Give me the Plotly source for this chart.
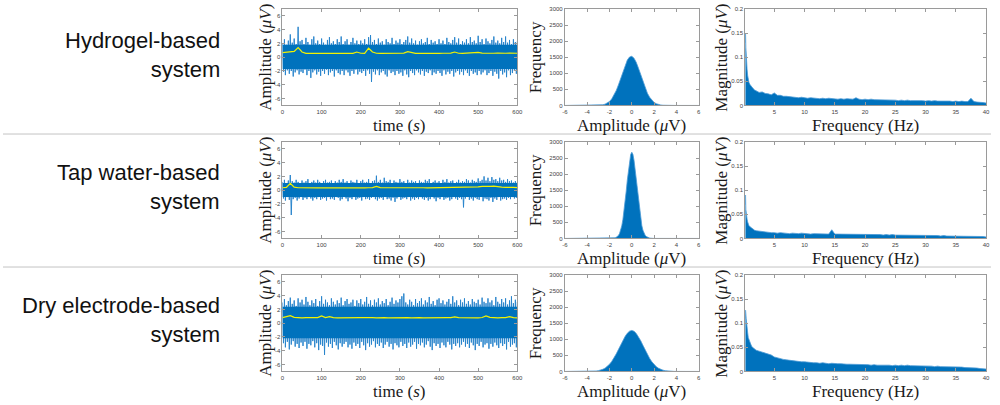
import numpy as np
import plotly.graph_objects as go

# ---------------- DATA ----------------
row_labels = ["Hydrogel-based<br>system", "Tap water-based<br>system", "Dry electrode-based<br>system"]

# time-series: upper peaks at t=0,5,...,600 ; lower peaks at t=2.5,7.5,...,597.5 (µV)
ts_upper_1 = [2.0, 2.6, 1.8, 2.4, 3.3, 2.1, 2.7, 1.9, 4.4, 2.3,
              2.5, 1.9, 2.8, 2.2, 1.8, 2.6, 3.0, 2.0, 2.4, 1.9,
              2.7, 2.1, 1.8, 2.5, 2.9, 2.0, 2.3, 1.9, 2.6, 2.2,
              3.0, 1.9, 2.3, 2.6, 1.8, 2.2, 2.8, 2.0, 2.4, 1.9,
              2.4, 2.0, 2.6, 1.9, 2.9, 3.2, 2.2, 2.5, 1.9, 2.7,
              2.1, 2.3, 1.8, 2.6, 2.2, 2.0, 2.8, 1.9, 2.4, 2.1,
              2.6, 1.9, 2.2, 2.5, 3.0, 2.1, 2.7, 2.0, 2.4, 1.8,
              2.3, 2.6, 2.0, 2.2, 2.8, 1.9, 2.5, 2.1, 2.3, 1.9,
              2.6, 2.0, 2.4, 1.9, 2.8, 2.2, 2.0, 2.5, 2.9, 2.1,
              2.7, 1.9, 2.3, 2.1, 2.6, 2.0, 2.9, 2.2, 2.4, 2.0,
              3.1, 2.2, 2.6, 1.9, 2.7, 2.3, 2.0, 2.5, 3.0, 2.1,
              2.4, 2.0, 2.8, 2.2, 3.0, 2.1, 2.5, 1.9, 2.6, 2.2, 2.3]
ts_lower_1 = [-2.1, -2.6, -1.9, -2.4, -2.0, -2.8, -2.2, -1.9, -2.5, -2.1,
              -2.3, -1.8, -2.6, -2.0, -3.0, -2.2, -1.9, -2.5, -2.1, -2.7,
              -2.0, -2.4, -1.8, -2.6, -2.2, -2.0, -2.8, -1.9, -2.3, -2.5,
              -2.0, -2.6, -1.9, -2.2, -2.7, -2.0, -2.4, -1.8, -2.5, -2.1,
              -2.3, -2.0, -2.7, -1.9, -2.4, -3.6, -2.1, -2.5, -1.9, -2.6,
              -2.2, -2.0, -2.5, -2.8, -1.9, -2.3, -2.1, -2.6, -2.0, -2.4,
              -2.2, -2.7, -1.9, -2.5, -2.9, -2.0, -2.3, -2.6, -1.9, -2.2,
              -2.5, -2.0, -2.7, -2.1, -2.3, -1.9, -2.6, -2.2, -2.4, -2.0,
              -2.3, -2.7, -1.9, -2.5, -2.1, -2.4, -2.0, -2.8, -2.2, -2.0,
              -2.5, -2.1, -2.6, -1.9, -2.3, -2.7, -2.0, -2.4, -2.2, -2.6,
              -2.0, -2.5, -2.2, -1.9, -2.6, -2.3, -2.0, -2.7, -2.1, -2.4,
              -3.1, -2.0, -2.5, -2.2, -2.9, -1.9, -2.6, -2.3, -2.0, -2.4]
# moving mean, t=0,10,...,600
ts_mean_1 = [0.65, 0.7, 0.75, 0.85, 1.4, 0.75, 0.55, 0.55, 0.6, 0.55,
             0.57, 0.55, 0.6, 0.55, 0.57, 0.55, 0.55, 0.6, 0.55, 0.75,
             0.57, 0.55, 1.3, 0.75, 0.57, 0.55, 0.57, 0.55, 0.6, 0.57,
             0.55, 0.6, 0.8, 0.65, 0.55, 0.57, 0.55, 0.55, 0.57, 0.55,
             0.55, 0.57, 0.55, 0.6, 0.75, 0.57, 0.55, 0.57, 0.6, 0.65,
             0.7, 0.6, 0.57, 0.55, 0.57, 0.6, 0.55, 0.57, 0.6, 0.55, 0.57]

ts_upper_2 = [1.2, 1.5, 1.0, 1.4, 2.2, 1.3, 1.1, 1.5, 1.2, 1.0,
              1.4, 1.1, 1.3, 1.6, 1.0, 1.2, 1.4, 1.1, 1.5, 1.2,
              1.0, 1.3, 1.5, 1.1, 1.2, 1.4, 1.0, 1.3, 1.1, 1.5,
              1.2, 1.6, 1.1, 1.3, 1.0, 1.4, 1.2, 1.1, 1.5, 1.0,
              1.3, 1.5, 1.1, 1.2, 1.6, 1.0, 1.3, 1.4, 2.1, 1.2,
              1.5, 1.1, 1.8, 1.3, 1.2, 1.5, 1.0, 1.4, 1.2, 1.1,
              1.6, 1.2, 1.3, 1.0, 1.5, 1.1, 1.4, 1.2, 1.3, 1.0,
              1.4, 1.2, 1.1, 1.5, 1.3, 1.6, 1.0, 1.2, 1.4, 1.1,
              1.3, 1.0, 1.5, 1.2, 1.6, 1.1, 1.3, 1.4, 1.0, 1.2,
              1.5, 1.1, 1.3, 1.2, 1.6, 1.4, 1.1, 1.5, 1.3, 1.2,
              1.7, 1.3, 1.5, 2.0, 1.4, 1.8, 1.3, 1.9, 1.5, 1.6,
              1.3, 1.8, 1.4, 1.5, 1.2, 1.6, 1.3, 1.4, 1.1, 1.3, 1.2]
ts_lower_2 = [-1.2, -1.5, -1.0, -1.4, -3.6, -1.3, -1.1, -1.5, -1.2, -1.0,
              -1.4, -1.1, -1.3, -1.0, -1.2, -1.5, -1.1, -1.3, -1.0, -1.4,
              -1.2, -1.1, -1.5, -1.0, -1.3, -1.2, -1.4, -1.0, -1.1, -1.5,
              -1.3, -1.0, -1.2, -1.6, -1.1, -1.3, -1.0, -1.4, -1.2, -1.1,
              -1.5, -1.0, -1.3, -1.2, -1.4, -1.1, -1.0, -1.3, -1.5, -1.2,
              -1.1, -1.4, -1.0, -1.3, -1.2, -1.5, -1.1, -1.7, -1.2, -1.0,
              -1.4, -1.2, -1.1, -1.3, -1.0, -1.5, -1.2, -1.4, -1.1, -1.3,
              -1.0, -1.2, -1.4, -1.1, -1.5, -1.3, -1.0, -1.2, -1.6, -1.1,
              -1.3, -1.0, -1.4, -1.2, -1.1, -1.5, -1.3, -1.0, -1.2, -1.4,
              -1.1, -1.3, -2.5, -1.2, -1.0, -1.4, -1.2, -1.5, -1.1, -1.3,
              -1.4, -1.0, -1.6, -1.2, -1.3, -1.5, -1.1, -1.7, -1.2, -1.4,
              -1.0, -1.5, -1.3, -1.2, -1.4, -1.1, -1.3, -1.0, -1.2, -1.1]
ts_mean_2 = [0.35, 0.4, 1.0, 0.45, 0.35, 0.33, 0.35, 0.34, 0.35, 0.33,
             0.35, 0.34, 0.35, 0.33, 0.35, 0.36, 0.35, 0.34, 0.35, 0.36,
             0.35, 0.34, 0.35, 0.38, 0.55, 0.38, 0.35, 0.36, 0.35, 0.34,
             0.35, 0.36, 0.35, 0.34, 0.35, 0.36, 0.35, 0.34, 0.35, 0.36,
             0.35, 0.36, 0.35, 0.36, 0.38, 0.36, 0.37, 0.38, 0.45, 0.42,
             0.48, 0.55, 0.5, 0.55, 0.6, 0.5, 0.45, 0.42, 0.45, 0.4, 0.38]

ts_upper_3 = [3.0, 3.5, 2.6, 3.2, 3.7, 2.8, 3.3, 2.5, 3.6, 3.0,
              3.4, 2.7, 3.8, 3.1, 2.6, 3.3, 2.9, 3.5, 2.5, 3.2,
              3.9, 2.8, 3.4, 3.0, 2.6, 3.6, 3.1, 2.7, 3.3, 2.9,
              3.7, 2.6, 3.2, 3.5, 2.8, 3.0, 3.4, 2.5, 3.3, 2.9,
              3.5, 2.7, 3.1, 3.8, 2.8, 3.3, 2.6, 3.4, 3.0, 3.6,
              2.7, 3.2, 2.9, 3.5, 2.6, 3.1, 3.7, 2.8, 3.3, 3.0,
              3.5, 3.9, 4.3, 3.0, 2.7, 3.4, 3.1, 2.6, 3.5, 2.9,
              3.2, 3.6, 2.7, 3.3, 3.0, 3.8, 2.8, 3.2, 2.6, 3.4,
              3.6, 2.9, 3.3, 2.7, 3.1, 3.5, 2.8, 3.9, 3.0, 3.3,
              2.6, 3.4, 3.0, 3.6, 2.8, 3.2, 2.7, 3.5, 3.1, 2.9,
              3.4, 2.7, 3.7, 3.1, 2.9, 3.6, 3.0, 3.3, 2.6, 3.8,
              3.1, 2.8, 3.5, 3.0, 3.6, 2.7, 3.3, 3.9, 2.9, 3.4, 3.1]
ts_lower_3 = [-2.9, -3.5, -2.7, -3.8, -3.1, -2.6, -3.4, -3.0, -3.6, -2.8,
              -3.3, -2.7, -3.7, -3.0, -3.2, -2.6, -3.5, -2.9, -3.9, -3.1,
              -3.3, -4.6, -2.8, -3.4, -3.0, -3.6, -2.7, -3.2, -3.8, -2.9,
              -3.4, -3.0, -2.7, -3.5, -3.1, -3.7, -2.8, -3.3, -3.0, -3.6,
              -2.7, -3.2, -3.9, -2.9, -3.4, -3.1, -2.6, -3.5, -3.0, -3.3,
              -2.8, -3.6, -3.1, -2.7, -3.4, -3.0, -3.8, -2.9, -3.2, -3.5,
              -2.7, -3.3, -3.0, -3.6, -2.8, -3.4, -3.1, -2.7, -3.7, -3.0,
              -3.2, -2.8, -3.5, -3.1, -2.6, -3.4, -3.9, -2.9, -3.3, -3.0,
              -3.6, -2.8, -3.2, -3.5, -2.7, -3.1, -3.8, -3.0, -3.3, -2.9,
              -3.5, -3.1, -2.7, -3.4, -3.0, -3.6, -2.8, -3.2, -3.9, -3.0,
              -3.3, -2.7, -3.5, -3.1, -2.9, -3.7, -3.0, -3.4, -2.8, -3.2,
              -3.6, -2.9, -3.3, -3.0, -3.8, -2.7, -3.4, -3.1, -2.9, -3.5]
ts_mean_3 = [0.8, 0.95, 1.1, 0.85, 0.8, 0.78, 0.82, 0.8, 0.79, 0.8,
             1.05, 0.82, 0.95, 0.8, 0.78, 0.8, 0.82, 0.8, 0.78, 0.8,
             0.82, 0.8, 0.85, 0.8, 0.78, 0.82, 0.8, 0.78, 0.8, 0.82,
             0.8, 0.85, 0.8, 0.78, 0.82, 0.8, 0.78, 0.8, 0.82, 0.8,
             0.78, 0.8, 0.82, 0.8, 0.9, 0.8, 0.78, 0.8, 0.82, 0.8,
             0.78, 0.82, 1.05, 0.85, 0.8, 0.78, 0.82, 0.8, 0.95, 0.8, 0.78]

# dense core of each signal (lower, upper) in µV
ts_core_lo = [-1.7, -1.0, -2.2]
ts_core_hi = [1.8, 1.05, 2.4]

# histograms (bin centre -> count)
hist_x_1 = [round(-4.0 + 0.2 * i, 2) for i in range(41)]
hist_y_1 = [0, 0, 0, 1, 2, 5, 10, 21, 40, 72, 124, 203, 312, 460, 638, 843, 1055, 1253, 1411, 1507,
            1527, 1468, 1339, 1158, 949, 739, 545, 381, 254, 160, 95, 54, 29, 15, 7, 3, 2, 1, 0, 0, 0]
hist_x_2 = [round(-2.0 + 0.1 * i, 2) for i in range(41)]
hist_y_2 = [1, 2, 4, 7, 12, 20, 35, 56, 92, 152, 249, 390, 583, 832, 1132, 1468, 1816, 2142, 2420, 2610,
            2680, 2615, 2430, 2150, 1830, 1480, 1145, 845, 595, 400, 258, 160, 98, 60, 37, 22, 13, 8, 4, 2, 1]
hist_x_3 = [round(-4.4 + 0.2 * i, 2) for i in range(45)]
hist_y_3 = [0, 1, 1, 2, 4, 8, 15, 25, 42, 67, 103, 154, 222, 310, 417, 542, 680, 824, 964, 1090, 1189, 1253,
            1275, 1250, 1183, 1082, 955, 812, 668, 530, 405, 300, 214, 148, 99, 64, 40, 24, 14, 8, 4, 2, 1, 1, 0]

# spectra (Hz -> magnitude µV)
fft_freq = [0.2, 0.25, 0.3, 0.35, 0.4, 0.5, 0.6, 0.7, 0.8, 1.0, 1.25, 1.5, 1.75] + \
           [round(2.0 + 0.5 * i, 2) for i in range(77)]
fft_mag_1 = [0.13, 0.15, 0.12, 0.10, 0.085, 0.075, 0.062, 0.054, 0.048, 0.043, 0.038, 0.035, 0.032,
             0.030, 0.027, 0.028, 0.025, 0.024, 0.022, 0.026, 0.021, 0.021, 0.019,
             0.019, 0.018, 0.018, 0.017, 0.016, 0.017, 0.016, 0.015, 0.016, 0.015,
             0.015, 0.014, 0.015, 0.014, 0.015, 0.014, 0.014, 0.013, 0.014, 0.013,
             0.014, 0.013, 0.013, 0.016, 0.013, 0.012, 0.013, 0.012, 0.013, 0.012,
             0.012, 0.011, 0.012, 0.011, 0.012, 0.011, 0.011, 0.010, 0.011, 0.010,
             0.011, 0.010, 0.010, 0.011, 0.010, 0.010, 0.009, 0.010, 0.009, 0.010,
             0.009, 0.009, 0.010, 0.009, 0.009, 0.008, 0.009, 0.008, 0.009, 0.008,
             0.008, 0.015, 0.008, 0.007, 0.007, 0.006, 0.005]
fft_mag_2 = [0.07, 0.09, 0.06, 0.05, 0.045, 0.04, 0.034, 0.030, 0.027, 0.024, 0.021, 0.019, 0.017,
             0.016, 0.015, 0.014, 0.013, 0.013, 0.012, 0.012, 0.011, 0.012, 0.011,
             0.011, 0.010, 0.011, 0.010, 0.010, 0.011, 0.010, 0.010, 0.009, 0.010,
             0.010, 0.009, 0.010, 0.009, 0.009, 0.018, 0.009, 0.009, 0.009, 0.009,
             0.009, 0.009, 0.008, 0.009, 0.008, 0.009, 0.008, 0.008, 0.009, 0.008,
             0.008, 0.008, 0.007, 0.008, 0.007, 0.008, 0.007, 0.007, 0.007, 0.007,
             0.007, 0.006, 0.007, 0.006, 0.007, 0.006, 0.006, 0.006, 0.006, 0.006,
             0.006, 0.005, 0.006, 0.005, 0.005, 0.005, 0.005, 0.005, 0.005, 0.004,
             0.005, 0.004, 0.004, 0.004, 0.004, 0.004, 0.003]
fft_mag_3 = [0.11, 0.127, 0.12, 0.11, 0.10, 0.09, 0.08, 0.07, 0.066, 0.058, 0.052, 0.049, 0.046,
             0.044, 0.042, 0.040, 0.039, 0.037, 0.034, 0.030, 0.028, 0.027, 0.025,
             0.024, 0.023, 0.022, 0.022, 0.021, 0.020, 0.020, 0.019, 0.019, 0.018,
             0.018, 0.017, 0.018, 0.017, 0.016, 0.017, 0.016, 0.016, 0.016, 0.015,
             0.015, 0.015, 0.015, 0.014, 0.015, 0.014, 0.014, 0.014, 0.013, 0.014,
             0.013, 0.013, 0.014, 0.013, 0.013, 0.012, 0.013, 0.012, 0.013, 0.012,
             0.013, 0.012, 0.012, 0.012, 0.011, 0.012, 0.011, 0.011, 0.011, 0.010,
             0.011, 0.010, 0.010, 0.010, 0.010, 0.009, 0.010, 0.009, 0.009, 0.008,
             0.008, 0.008, 0.007, 0.007, 0.006, 0.006, 0.005]

ts_xticks = [0, 100, 200, 300, 400, 500, 600]
ts_yticks = [-6, -4, -2, 0, 2, 4, 6]
hist_xticks = [-6, -4, -2, 0, 2, 4, 6]
hist_yticks = [0, 500, 1000, 1500, 2000, 2500, 3000]
fft_xticks = [5, 10, 15, 20, 25, 30, 35, 40]
fft_yticks = [0, 0.05, 0.1, 0.15, 0.2]

# ---------------- FIGURE ----------------
W, H = 1000, 405
BLUE = "#0072BD"
LIGHT = "#4d9bd6"
SPIKE = "#2a85cc"

rows_ts = [(ts_upper_1, ts_lower_1, ts_mean_1), (ts_upper_2, ts_lower_2, ts_mean_2),
           (ts_upper_3, ts_lower_3, ts_mean_3)]
rows_hist = [(hist_x_1, hist_y_1), (hist_x_2, hist_y_2), (hist_x_3, hist_y_3)]
rows_fft = [fft_mag_1, fft_mag_2, fft_mag_3]

# pixel boxes
row_top = [6, 141, 276]
row_bot = [104, 239, 374]
col_x = [(282, 519), (567, 702), (749, 992)]

fig = go.Figure()
layout = {}
annotations = []

def ax_style(tickvals, ticktext, rng):
    return dict(range=rng, tickvals=tickvals, ticktext=ticktext, showline=True,
                linecolor="#9a9a9a", linewidth=1, mirror="ticks", ticks="inside",
                ticklen=3, tickcolor="#9a9a9a", showgrid=False, zeroline=False,
                tickfont=dict(size=6, color="#444", family="Liberation Sans"),
                fixedrange=True)

def fmt(v):
    return "%g" % v

SERIF = "Liberation Serif"
axn = 0
for r in range(3):
    ydom = [1 - row_bot[r] / H, 1 - row_top[r] / H]
    ymid = 1 - (row_top[r] + row_bot[r]) / 2 / H
    ytitle = 1 - (row_bot[r] + 20) / H
    for c in range(3):
        axn += 1
        xa = "x" if axn == 1 else "x%d" % axn
        ya = "y" if axn == 1 else "y%d" % axn
        xkey = "xaxis" if axn == 1 else "xaxis%d" % axn
        ykey = "yaxis" if axn == 1 else "yaxis%d" % axn
        xdom = [col_x[c][0] / W, col_x[c][1] / W]
        if c == 0:
            up, lo, mean = rows_ts[r]
            t_up = [5 * i for i in range(len(up))]
            t_lo = [5 * i + 2.5 for i in range(len(lo))]
            zx, zy = [], []
            for i in range(len(t_lo)):
                zx += [t_up[i], t_lo[i]]
                zy += [up[i], lo[i]]
            zx.append(t_up[-1]); zy.append(up[-1])
            fig.add_trace(go.Scatter(x=zx, y=zy, mode="lines", line=dict(width=1.0, color=SPIKE),
                                     xaxis=xa, yaxis=ya, showlegend=False))
            fig.add_trace(go.Scatter(x=[0, 600], y=[ts_core_hi[r]] * 2, mode="lines",
                                     line=dict(width=0, color=BLUE), xaxis=xa, yaxis=ya,
                                     showlegend=False, hoverinfo="skip"))
            fig.add_trace(go.Scatter(x=[0, 600], y=[ts_core_lo[r]] * 2, mode="lines",
                                     line=dict(width=0, color=BLUE), fill="tonexty",
                                     fillcolor=BLUE, xaxis=xa, yaxis=ya,
                                     showlegend=False, hoverinfo="skip"))
            t_mean = [10 * i for i in range(len(mean))]
            fig.add_trace(go.Scatter(x=t_mean, y=mean, mode="lines",
                                     line=dict(width=1.2, color="#F2F200"),
                                     xaxis=xa, yaxis=ya, showlegend=False))
            layout[xkey] = ax_style(ts_xticks, [fmt(v) for v in ts_xticks], [0, 600])
            layout[ykey] = ax_style(ts_yticks, [fmt(v) for v in ts_yticks], [-7, 7])
            annotations.append(dict(x=265 / W, y=ymid, text="Amplitude (<i>μV</i>)", textangle=-90))
            annotations.append(dict(x=400 / W, y=ytitle, text="time (<i>s</i>)"))
        elif c == 1:
            hx, hy = rows_hist[r]
            fig.add_trace(go.Scatter(x=[-6] + hx + [6], y=[0] + hy + [0], mode="lines",
                                     line=dict(width=0.8, color=LIGHT), fill="tozeroy",
                                     fillcolor=BLUE, xaxis=xa, yaxis=ya, showlegend=False))
            layout[xkey] = ax_style(hist_xticks, [fmt(v) for v in hist_xticks], [-6, 6])
            layout[ykey] = ax_style(hist_yticks, [fmt(v) for v in hist_yticks], [0, 3000])
            annotations.append(dict(x=537 / W, y=ymid, text="Frequency", textangle=-90))
            annotations.append(dict(x=634 / W, y=ytitle, text="Amplitude (<i>μ</i>V)"))
        else:
            mag = rows_fft[r]
            fig.add_trace(go.Scatter(x=fft_freq, y=mag, mode="lines",
                                     line=dict(width=0.8, color=LIGHT), fill="tozeroy",
                                     fillcolor=BLUE, xaxis=xa, yaxis=ya, showlegend=False))
            layout[xkey] = ax_style(fft_xticks, [fmt(v) for v in fft_xticks], [0.2, 40])
            layout[ykey] = ax_style(fft_yticks, [fmt(v) for v in fft_yticks], [0, 0.2])
            annotations.append(dict(x=725 / W, y=ymid, text="Magnitude (<i>μV</i>)", textangle=-90))
            annotations.append(dict(x=870 / W, y=ytitle, text="Frequency (Hz)"))
        layout[xkey]["domain"] = xdom
        layout[xkey]["anchor"] = ya
        layout[ykey]["domain"] = ydom
        layout[ykey]["anchor"] = xa

for a in annotations:
    a.update(xref="paper", yref="paper", showarrow=False, xanchor="center", yanchor="middle",
             font=dict(family=SERIF, size=17, color="#1a1a1a"))

label_y = [53, 187, 322]
for r in range(3):
    annotations.append(dict(x=221 / W, y=1 - label_y[r] / H, xref="paper", yref="paper",
                            text=row_labels[r], showarrow=False, xanchor="right", yanchor="middle",
                            align="right", font=dict(family="Liberation Sans", size=22, color="#111")))

shapes = []
for yy in [133, 268]:
    shapes.append(dict(type="line", xref="paper", yref="paper", x0=0, x1=0.997,
                       y0=1 - yy / H, y1=1 - yy / H, line=dict(color="#c4c4c4", width=1)))

fig.update_layout(width=W, height=H, margin=dict(l=0, r=0, t=0, b=0),
                  paper_bgcolor="white", plot_bgcolor="white",
                  annotations=annotations, shapes=shapes, **layout)

fig.write_html("out.html", config={"displayModeBar": False, "staticPlot": True},
               post_script="document.body.style.margin='0px';document.body.style.overflow='hidden';")
